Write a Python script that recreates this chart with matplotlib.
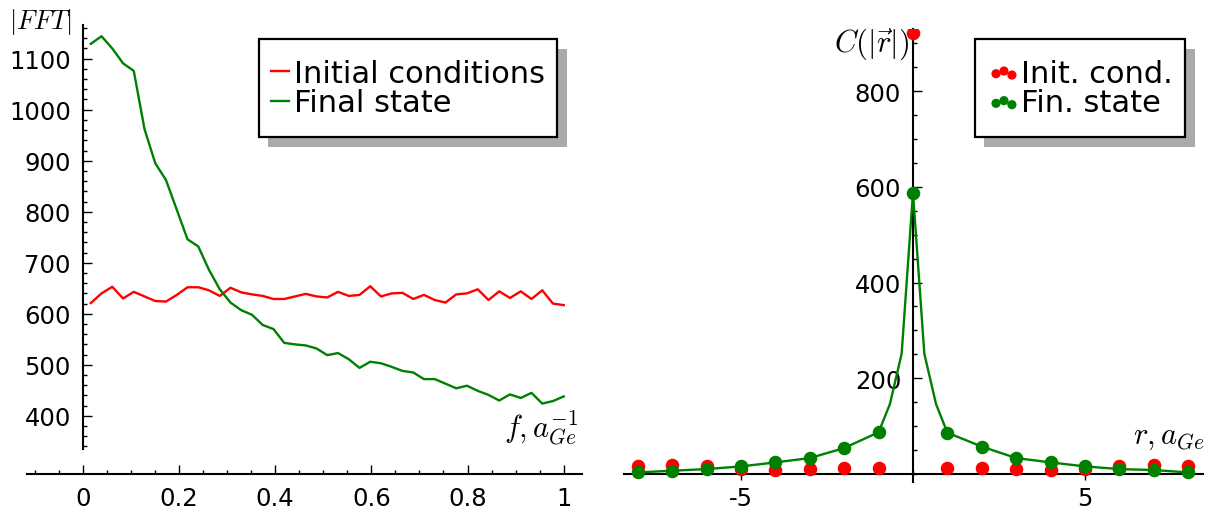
#!/usr/bin/env python3
"""FFT spectrum and correlation function: initial conditions vs final state."""

import matplotlib

matplotlib.use("Agg")
import matplotlib.pyplot as plt
import numpy as np
from matplotlib.offsetbox import DrawingArea
from matplotlib.ticker import FixedLocator, MultipleLocator

# left panel: |FFT| vs frequency (45 samples, f from ~0.017 to 1)
FREQ_START, FREQ_STOP, N_FREQ = 0.0166, 1.0, 45
fft_initial = [
    621, 640, 653, 630, 643, 634, 625, 624, 637, 652, 652, 646, 635, 651, 642,
    638, 635, 629, 629, 634, 639, 634, 632, 643, 635, 637, 654, 634, 640, 641,
    629, 637, 627, 622, 638, 640, 648, 627, 644, 631, 644, 629, 646, 620, 617,
]
fft_final = [
    1129, 1144, 1120, 1091, 1076, 962, 895, 862, 804, 746, 732, 686, 648, 622, 607,
    598, 578, 570, 543, 540, 538, 532, 519, 523, 511, 494, 506, 503, 496, 488,
    485, 472, 472, 463, 454, 459, 449, 441, 430, 442, 435, 445, 424, 429, 438,
]

# right panel: correlation C(|r|)
r_points = [-8, -7, -6, -5, -4, -3, -2, -1, 0, 1, 2, 3, 4, 5, 6, 7, 8]
corr_initial = [17, 18, 17, 10, 9, 11, 13, 12, 921, 12, 13, 11, 9, 10, 17, 18, 17]
corr_final = [3, 6.6, 10, 15.6, 24, 33, 54, 87, 588, 86, 57, 33, 24, 15.6, 10, 8, 3]
r_line = [-8, -7, -6, -5, -4, -3, -2, -1, -0.67, -0.33, 0, 0.33, 0.67, 1, 2, 3, 4, 5, 6, 7, 8]
corr_line = [3, 6.6, 10, 15.6, 24, 33, 54, 87, 146, 251, 588, 251, 146, 86, 57, 33, 24, 15.6, 10, 8, 3]

RED = "#ff0000"
GREEN = "#008000"
LW = 1.7
TICK_FS = 17.5
LEGEND_FS = 22
LABEL_FS = 22


def style_axis(ax):
    for side in ("top", "right"):
        ax.spines[side].set_visible(False)
    for side in ("left", "bottom"):
        ax.spines[side].set_linewidth(1.5)
    ax.tick_params(which="major", direction="in", length=6.5, width=1.0,
                   labelsize=TICK_FS, pad=8.5)
    ax.tick_params(which="minor", direction="in", length=3.0, width=1.0)


def add_legend(ax, anchor, handlelength, textpad, markerscale=1.0):
    leg = ax.legend(
        loc="upper right",
        bbox_to_anchor=anchor,
        borderaxespad=0.0,
        fontsize=LEGEND_FS,
        fancybox=False,
        framealpha=1.0,
        handlelength=handlelength,
        handletextpad=textpad,
        labelspacing=0.02,
        borderpad=0.4,
        scatterpoints=3,
        markerscale=markerscale,
        shadow={"ox": 7, "oy": -7, "facecolor": "#aaaaaa",
                "edgecolor": "none", "alpha": 1.0},
    )
    leg.get_frame().set_edgecolor("black")
    leg.get_frame().set_linewidth(1.6)
    # extra room above and below the entries only (the box is taller than wide-padded)
    leg._legend_box._children = [DrawingArea(1, 5), leg._legend_handle_box,
                                 DrawingArea(1, 5)]
    return leg


def main():
    plt.rcParams["mathtext.fontset"] = "cm"
    fig = plt.figure(figsize=(12.18, 5.10), dpi=100)

    # ---- left: FFT ----
    ax1 = fig.add_axes([27 / 1218, 35 / 510, 555 / 1218, 449 / 510])
    ax1.patch.set_alpha(0)
    freq = np.linspace(FREQ_START, FREQ_STOP, N_FREQ)
    ax1.plot(freq, fft_initial, color=RED, lw=LW, label="Initial conditions")
    ax1.plot(freq, fft_final, color=GREEN, lw=LW, label="Final state")
    ax1.set_xlim(-0.116, 1.038)
    ax1.set_ylim(286, 1166)
    style_axis(ax1)
    ax1.spines["left"].set_position(("data", 0))
    ax1.spines["left"].set_bounds(335, 1166)
    ax1.set_xticks([0, 0.2, 0.4, 0.6, 0.8, 1.0])
    ax1.set_xticklabels(["0", "0.2", "0.4", "0.6", "0.8", "1"])
    ax1.xaxis.set_minor_locator(MultipleLocator(0.05))
    ax1.set_yticks(np.arange(400, 1101, 100))
    ax1.yaxis.set_minor_locator(FixedLocator(np.arange(340, 1161, 20)))
    add_legend(ax1, (0.955, 0.969), 0.6, 0.15)
    fig.text(72 / 1218, 1 - 22 / 510, r"$|FFT|$", ha="right", va="center",
             fontsize=19)
    fig.text(578 / 1218, 1 - 448 / 510, r"$f, a_{Ge}^{-1}$", ha="right",
             va="bottom", fontsize=LABEL_FS)

    # ---- right: correlation ----
    ax2 = fig.add_axes([624 / 1218, 27 / 510, 579 / 1218, 453 / 510])
    ax2.patch.set_alpha(0)
    ax2.scatter(r_points, corr_initial, s=95, color=RED, linewidths=0,
                label="Init. cond.", zorder=3)
    ax2.plot(r_line, corr_line, color=GREEN, lw=LW, zorder=4)
    ax2.scatter(r_points, corr_final, s=95, color=GREEN, linewidths=0,
                label="Fin. state", zorder=5)
    ax2.set_xlim(-8.4, 8.43)
    ax2.set_ylim(-17, 930)
    style_axis(ax2)
    ax2.spines["left"].set_position(("data", 0))
    ax2.spines["bottom"].set_position(("data", 0))
    ax2.tick_params(axis="x", which="major", direction="inout", length=9, pad=4)
    ax2.set_xticks([-5, 5])
    ax2.set_xticklabels(["-5", "5"])
    ax2.xaxis.set_minor_locator(MultipleLocator(1))
    ax2.set_yticks([200, 400, 600, 800])
    ax2.yaxis.set_minor_locator(MultipleLocator(50))
    add_legend(ax2, (0.969, 0.978), 1.12, 0.0, markerscale=0.68)
    fig.text(909 / 1218, 1 - 44 / 510, r"$C(|\vec{r}|)$", ha="right",
             va="center", fontsize=LABEL_FS)
    fig.text(1205 / 1218, 1 - 452 / 510, r"$r, a_{Ge}$", ha="right",
             va="bottom", fontsize=LABEL_FS)

    fig.savefig("out.png", dpi=100)
    plt.close(fig)


if __name__ == "__main__":
    main()
